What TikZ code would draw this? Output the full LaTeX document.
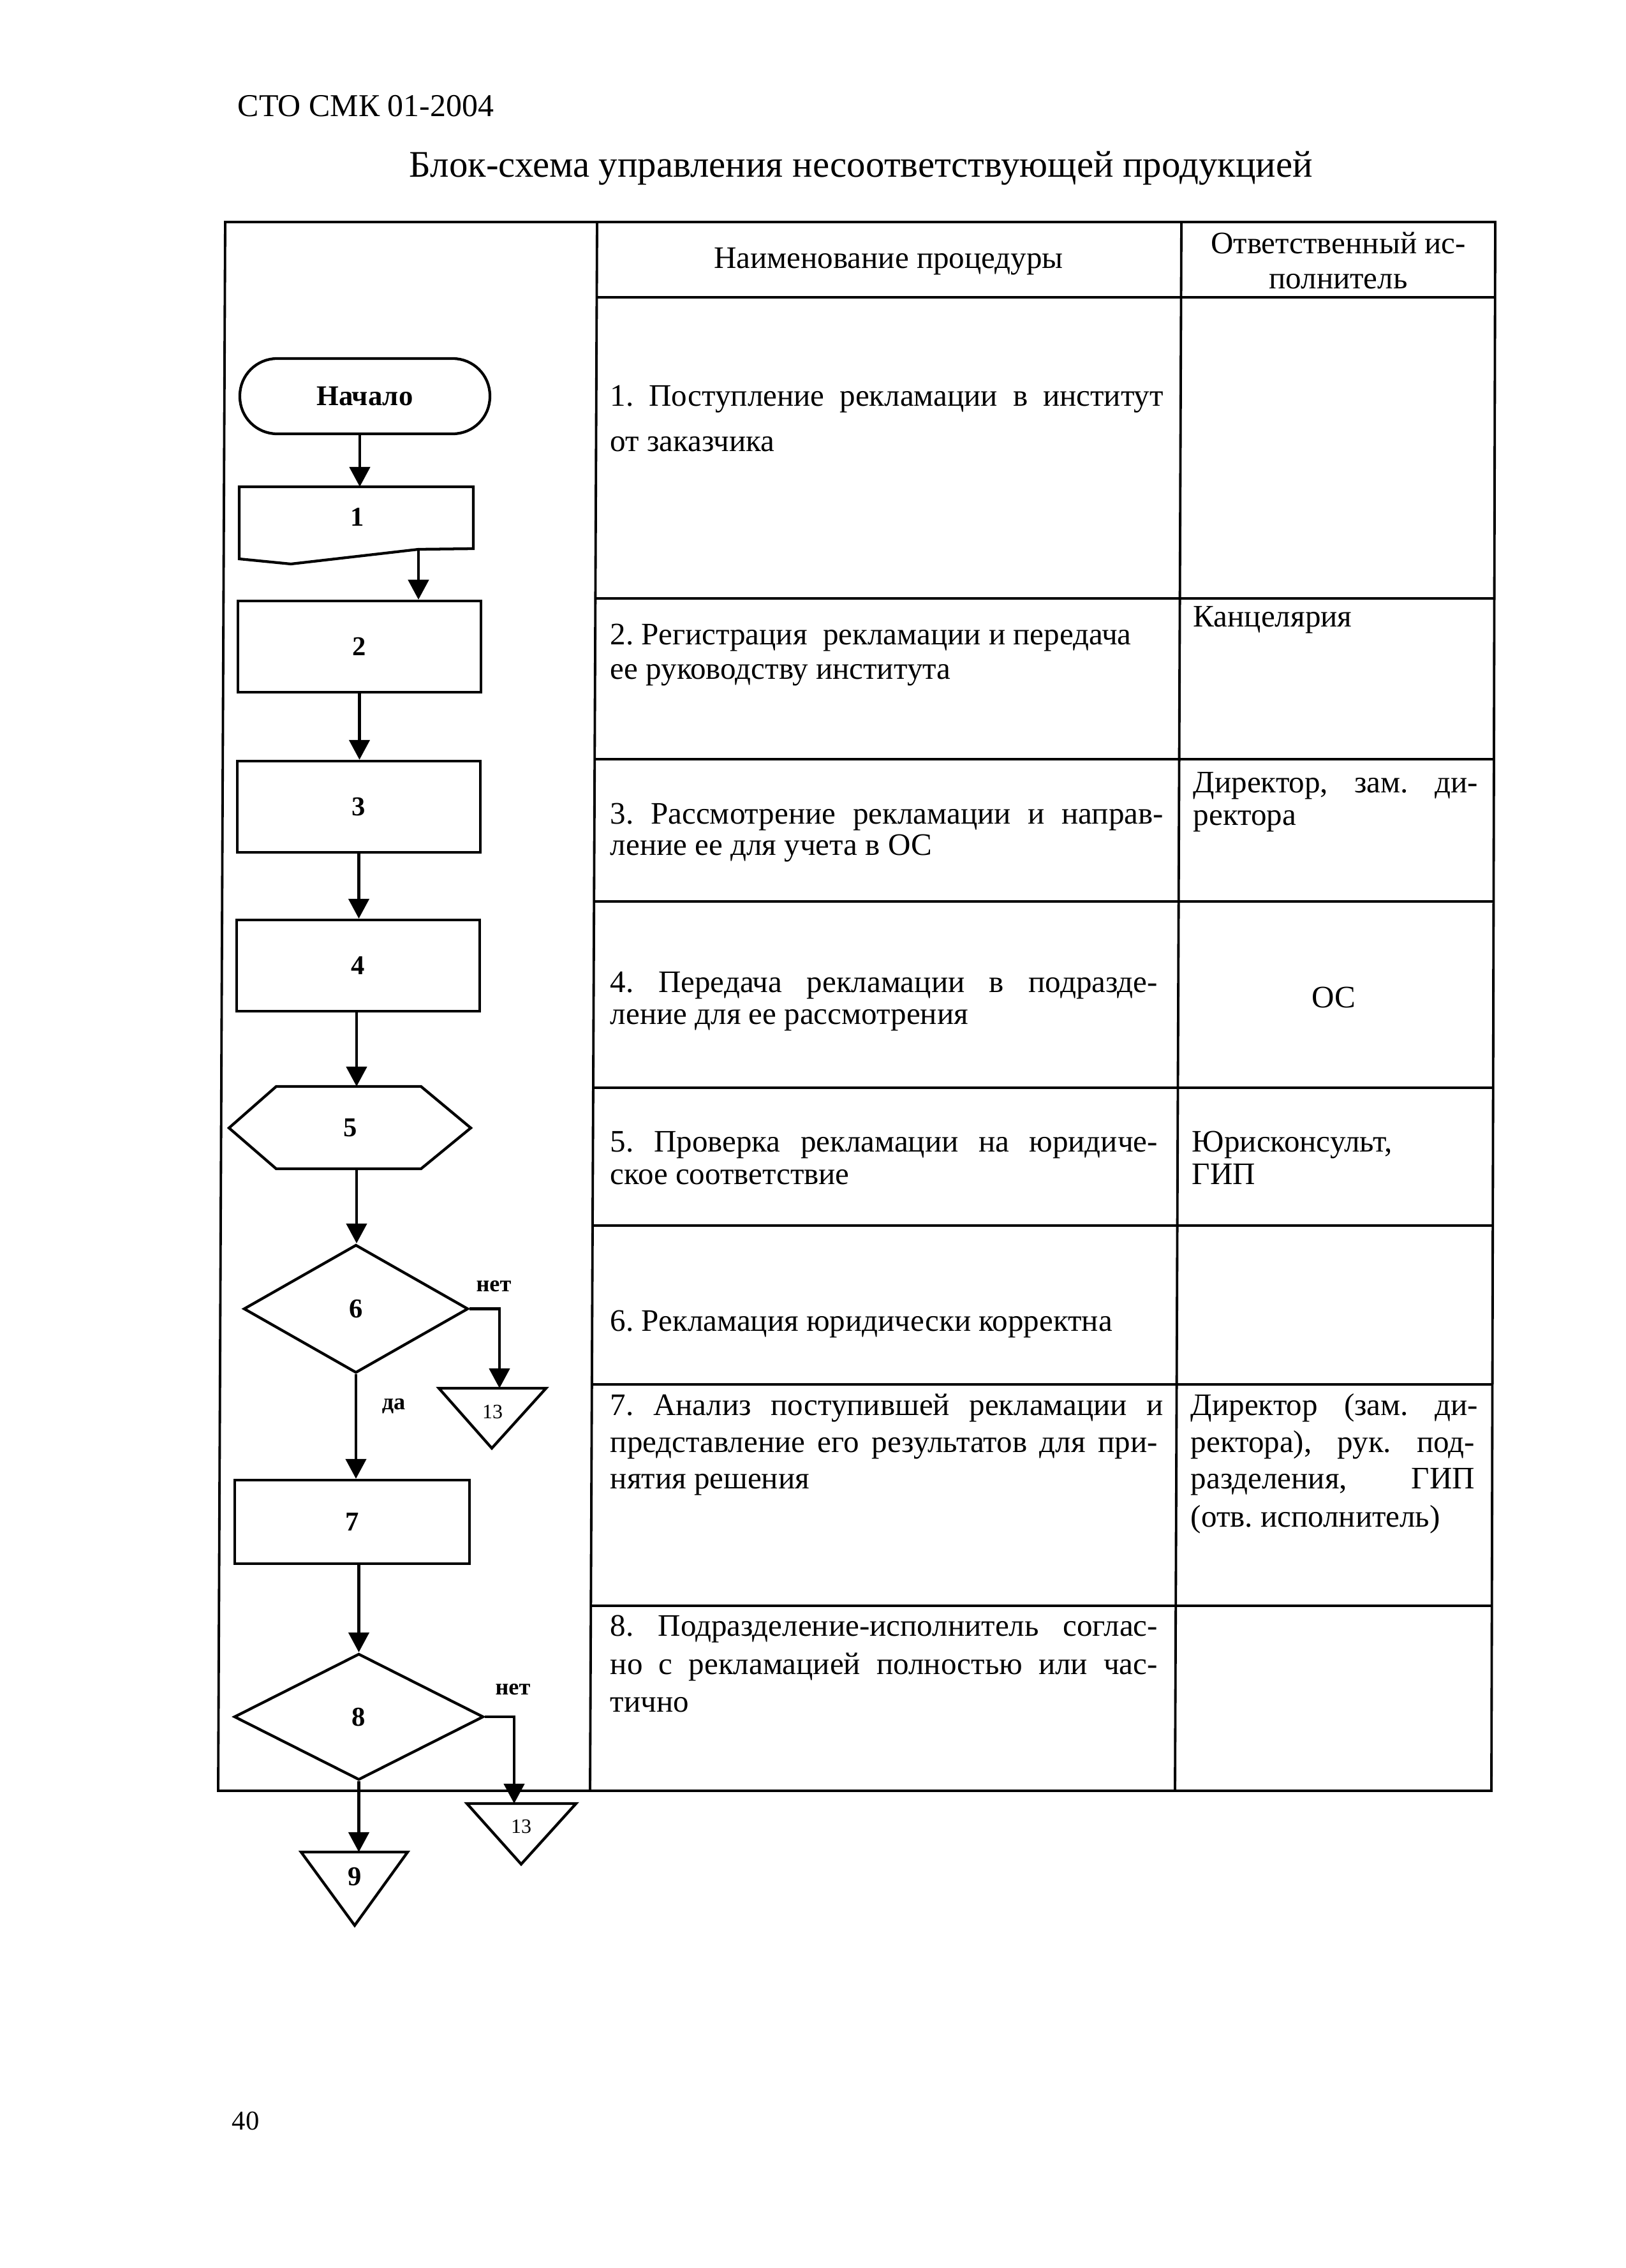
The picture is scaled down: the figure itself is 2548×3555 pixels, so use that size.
\documentclass[tikz,border=0pt]{standalone}
\usepackage{fontspec}
\setmainfont{Liberation Serif}
\usetikzlibrary{arrows.meta,calc,shapes.geometric}
\newlength\px \setlength\px{0.082418mm}
\newcommand\jl[2]{\makebox[#1\px][s]{#2}}
\newcommand\tabrow[1]{\draw[tline] ($(c1t)!{(#1-348)/2459}!(c1b)$) -- ($(rt)!{(#1-348)/2459}!(rb)$);}
\frenchspacing
\begin{document}
\begin{tikzpicture}[x=0.082418mm, y=-0.082418mm,
  tline/.style={line width=0.9pt},
  shp/.style={draw, line width=1.0pt, inner sep=0pt},
  arr/.style={line width=1.15pt, -{Triangle[length=7.3pt,width=7.5pt]}},
  txt/.style={anchor=base west, inner sep=0pt, font=\fontsize{11.5}{13}\selectfont},
  num/.style={font=\fontsize{10}{12}\selectfont\bfseries},
  lbl/.style={inner sep=0pt, font=\fontsize{8.5}{10}\selectfont\bfseries},
  small/.style={inner sep=0pt, font=\fontsize{7.5}{9}\selectfont}]
\fill[white] (0,0) rectangle (2548,3555);
\useasboundingbox (0,0) rectangle (2548,3555);

% header
\node[anchor=base west, inner sep=0pt, font=\fontsize{11.7}{14}\selectfont] (doc) at (372,182) {СТО СМК 01-2004};
\node[anchor=base west, inner sep=0pt, font=\fontsize{13.8}{16}\selectfont] (title) at (641,277) {Блок-схема управления несоответствующей продукцией};

% table
\coordinate (lt) at (353,348); \coordinate (lb) at (342,2807);
\coordinate (c1t) at (936,348); \coordinate (c1b) at (925,2807);
\coordinate (c2t) at (1852,348); \coordinate (c2b) at (1842,2807);
\coordinate (rt) at (2344,348); \coordinate (rb) at (2338,2807);
\draw[tline] (lt) -- (rt) -- (rb) -- (lb) -- cycle;
\draw[tline] (c1t) -- (c1b);
\draw[tline] (c2t) -- (c2b);
\foreach \yy in {466,938,1190,1413,1705,1921,2170,2517} {\tabrow{\yy}}

% table texts
\node[txt, anchor=base] (hA) at (1393,420) {Наименование процедуры};
\node[txt, anchor=base] (hB1) at (2098,397) {Ответственный ис-};
\node[txt, anchor=base] (hB2) at (2098,452) {полнитель};

\node[txt] (r1a) at (956,636) {\jl{867}{1. Поступление рекламации в институт}};
\node[txt] (r1b) at (956,707) {от заказчика};

\node[txt] (r2a) at (956,1010) {2. Регистрация\ \ рекламации и передача};
\node[txt] (r2b) at (956,1064) {ее руководству института};
\node[txt] (r2c) at (1870,982) {Канцелярия};

\node[txt] (r3a) at (956,1291) {\jl{867}{3. Рассмотрение рекламации и направ-}};
\node[txt] (r3b) at (956,1340) {ление ее для учета в ОС};
\node[txt] (r3c) at (1870,1242) {\jl{446}{Директор, зам. ди-}};
\node[txt] (r3d) at (1870,1293) {ректора};

\node[txt] (r4a) at (956,1555) {\jl{858}{4. Передача рекламации в подразде-}};
\node[txt] (r4b) at (956,1605) {ление для ее рассмотрения};
\node[txt, anchor=base] (r4c) at (2091,1579) {ОС};

\node[txt] (r5a) at (956,1805) {\jl{858}{5. Проверка рекламации на юридиче-}};
\node[txt] (r5b) at (956,1856) {ское соответствие};
\node[txt] (r5c) at (1868,1805) {Юрисконсульт,};
\node[txt] (r5d) at (1868,1856) {ГИП};

\node[txt] (r6a) at (956,2086) {6. Рекламация юридически корректна};

\node[txt] (r7a) at (956,2218) {\jl{867}{7. Анализ поступившей рекламации и}};
\node[txt] (r7b) at (956,2276) {\jl{858}{представление его результатов для при-}};
\node[txt] (r7c) at (956,2333) {нятия решения};
\node[txt] (r7d) at (1866,2218) {\jl{450}{Директор (зам. ди-}};
\node[txt] (r7e) at (1866,2276) {\jl{445}{ректора), рук. под-}};
\node[txt] (r7f) at (1866,2333) {\jl{445}{разделения, ГИП}};
\node[txt] (r7g) at (1866,2393) {(отв. исполнитель)};

\node[txt] (r8a) at (956,2564) {\jl{858}{8. Подразделение-исполнитель соглас-}};
\node[txt] (r8b) at (956,2624) {\jl{858}{но с рекламацией полностью или час-}};
\node[txt] (r8c) at (956,2683) {тично};

% flowchart
\node[shp, rectangle, rounded corners=4.8mm, minimum width=392\px, minimum height=118\px,
      font=\fontsize{10.5}{12}\selectfont\bfseries] (start) at (572,621) {Начало};

\draw[shp] (375,763) -- (742,763) -- (742,860) -- (656,861) -- (456,884) -- (375,876) -- cycle;
\node[num] (b1) at (560,810) {1};
\coordinate (b1in) at (564,763);
\coordinate (b1out) at (656,861);

\node[shp, rectangle, minimum width=381\px, minimum height=143\px, num] (b2) at (563.5,1013.5) {2};
\node[shp, rectangle, minimum width=381\px, minimum height=143\px, num] (b3) at (562.5,1264.5) {3};
\node[shp, rectangle, minimum width=381\px, minimum height=143\px, num] (b4) at (561.5,1513.5) {4};

\draw[shp] (359,1768) -- (433,1703) -- (660,1703) -- (738,1768) -- (660,1832) -- (433,1832) -- cycle;
\node[num] (h5) at (549,1768) {5};
\coordinate (h5in) at (559,1703);
\coordinate (h5out) at (559,1832);

\node[shp, diamond, minimum width=352\px, minimum height=201\px, num] (d6) at (558,2051.5) {6};

\draw[shp] (688,2176) -- (856,2176) -- (771,2270) -- cycle;
\node[small] (t13a) at (772,2213) {13};
\coordinate (t13ain) at (783,2176);

\node[shp, rectangle, minimum width=368\px, minimum height=131\px, num] (b7) at (552,2385.5) {7};

\node[shp, diamond, minimum width=391\px, minimum height=198\px, num] (d8) at (562.5,2691) {8};

\draw[shp] (732,2827) -- (903,2827) -- (817,2922) -- cycle;
\node[small] (t13b) at (817,2863) {13};
\coordinate (t13bin) at (806,2827);

\draw[shp] (472,2903) -- (639,2903) -- (556,3018) -- cycle;
\node[num] (t9) at (556,2942) {9};
\coordinate (t9in) at (556,2903);

\node[lbl] (net6) at (774,2016) {нет};
\node[lbl] (da6) at (617,2204) {да};
\node[lbl] (net8) at (804,2648) {нет};

% connectors
\draw[arr] (b1in |- start.south) -- (b1in);
\draw[arr] (b1out) -- (b1out |- b2.north);
\draw[arr] (b2.south) -- (b2.south |- b3.north);
\draw[arr] (b3.south) -- (b3.south |- b4.north);
\draw[arr] (h5in |- b4.south) -- (h5in);
\draw[arr] (h5out) -- (h5out |- d6.north);
\draw[arr] (d6.east) -| (t13ain);
\draw[arr] (d6.south) -- (d6.south |- b7.north);
\draw[arr] (b7.south -| d8.north) -- (d8.north);
\draw[arr] (d8.east) -| (t13bin);
\draw[arr] (d8.south) -- (d8.south |- t9in);

% page number
\node[anchor=base west, inner sep=0pt, font=\fontsize{10}{12}\selectfont] (page) at (363,3338) {40};
\end{tikzpicture}
\end{document}
